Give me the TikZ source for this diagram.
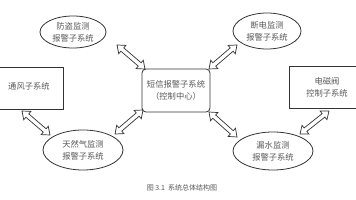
\documentclass[tikz,border=0pt]{standalone}
\usepackage{fontspec}
\newfontfamily\cjk{Noto Sans CJK SC}
\usetikzlibrary{arrows.meta,shapes.geometric,calc}
\definecolor{txt}{gray}{0.35}
\definecolor{ln}{gray}{0.2}
\tikzset{
  lbl/.style={font=\cjk\fontsize{8.3}{12}\selectfont, text=txt, align=center, inner sep=0pt},
  ell/.style={ellipse, draw=ln, line width=0.8pt, inner sep=0pt},
  box/.style={draw=ln, line width=0.8pt},
  blk/.style={draw=ln, line width=0.7pt, line join=miter, fill=white}
}
\newcommand\blockarrow[2]{%
  \draw[blk] let \p1=($(#2)-(#1)$), \n1={atan2(\y1,\x1)}, \n2={veclen(\x1,\y1)} in
    [shift={(#1)}, rotate=\n1]
    (0pt,0pt) -- (7pt,5.5pt) -- (7pt,2.2pt) -- (\n2-7pt,2.2pt) -- (\n2-7pt,5.5pt)
    -- (\n2,0pt) -- (\n2-7pt,-5.5pt) -- (\n2-7pt,-2.2pt) -- (7pt,-2.2pt) -- (7pt,-5.5pt) -- cycle;}
\begin{document}
\begin{tikzpicture}[x=1pt,y=-1pt]
\useasboundingbox (0,0) rectangle (356,200);
\fill[white] (0,0) rectangle (356,200);
\begin{scope}
\clip (0,0) rectangle (356,200);
% side boxes (extend beyond frame)
\draw[box] (-10,67) rectangle (63,109);
\node[lbl] (vent) at (29,86) {通风子系统};
\draw[box] (289,66) rectangle (366,108);
\node[lbl] (valve) at (327,87) {电磁阀\\控制子系统};
\end{scope}
% centre
\draw[box, rounded corners=4pt] (142,69) rectangle (210,112);
\node[lbl] (ctr) at (176,90) {短信报警子系统\\（控制中心）};
% ellipses
\draw[ell] (73,32) ellipse [x radius=33, y radius=16];
\node[lbl] (theft) at (73,32) {防盗监测\\报警子系统};
\draw[ell] (267,31) ellipse [x radius=34, y radius=18];
\node[lbl] (power) at (267,31) {断电监测\\报警子系统};
\draw[ell] (83,150) ellipse [x radius=40, y radius=20];
\node[lbl] (gas) at (83,150) {天然气监测\\报警子系统};
\draw[ell] (273,151) ellipse [x radius=40, y radius=19];
\node[lbl] (water) at (273,151) {漏水监测\\报警子系统};
% arrow end points
\coordinate (a1) at (117,45); \coordinate (a2) at (145,69);
\coordinate (b1) at (209,69); \coordinate (b2) at (237,45);
\coordinate (c1) at (22,111); \coordinate (c2) at (50,135);
\coordinate (d1) at (115,134); \coordinate (d2) at (143,110);
\coordinate (e1) at (209,112); \coordinate (e2) at (237,137);
\coordinate (f1) at (300,134); \coordinate (f2) at (329,111);
\blockarrow{a1}{a2}
\blockarrow{b1}{b2}
\blockarrow{c1}{c2}
\blockarrow{d1}{d2}
\blockarrow{e1}{e2}
\blockarrow{f1}{f2}
% caption
\node[font=\cjk\fontsize{7}{8}\selectfont, text=txt, inner sep=0pt] (cap) at (182,188) {图 3.1\ \ 系统总体结构图};
\end{tikzpicture}
\end{document}
